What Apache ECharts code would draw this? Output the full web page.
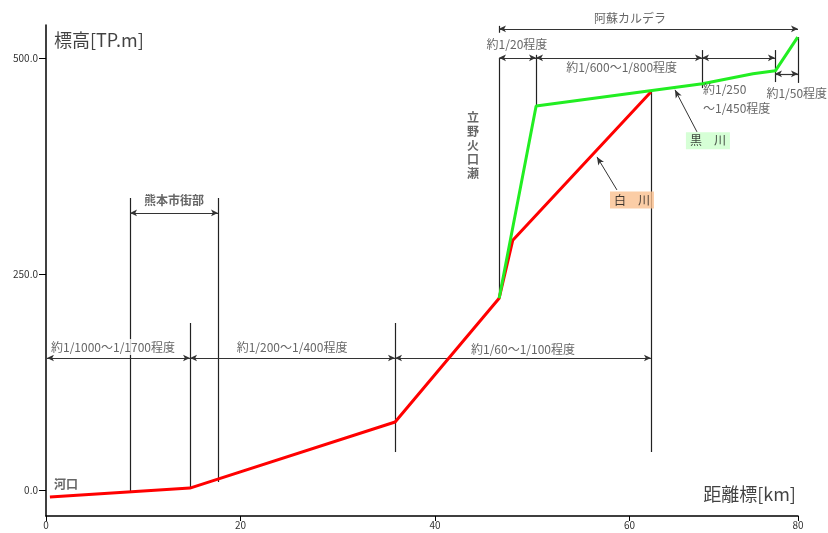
<!DOCTYPE html>
<html><head><meta charset="utf-8">
<script src="https://cdn.jsdelivr.net/npm/echarts@6/dist/echarts.min.js"></script>
<style>html,body{margin:0;padding:0;background:#fff}#c{width:828px;height:533px}</style>
</head><body><div id="c"></div>
<script>
// ---- data (distance km, elevation TP.m) ----
const shirakawaX = [0.4, 14.8, 35.9, 46.6, 48.0, 62.2];
const shirakawaY = [-8, 2.3, 78.7, 222, 289, 460.6];
const kurokawaX = [46.6, 50.4, 67.5, 72.7, 75.0, 77.3];
const kurokawaY = [222, 444.4, 470, 481.5, 485, 524];
const xTickValues = [0, 20, 40, 60, 77.33];
const xTickLabels = ['0', '20', '40', '60', '80'];
const yTickValues = [0, 250, 500];
const xMin = 0, xMax = 77.33, yMin = -30, yMax = 538;

// vertical reference lines: [x, yTop, yBottom]
const vLines = [
  [8.64, 338, -2.3], [14.81, 193.3, 2.3], [17.69, 338, 9.3], [35.89, 193.3, 44],
  [62.21, 460.6, 44], [46.58, 500, 222], [50.39, 503.5, 444.4], [67.46, 509, 465],
  [74.96, 509, 472], [77.33, 524, 471], [46.58, 537, 529]
];
// dimension arrows: [y, x1, x2]
const hArrows = [
  [320.6, 8.64, 17.69], [152.8, 0.1, 14.81], [152.8, 14.81, 35.89], [152.8, 35.89, 62.21],
  [500, 46.58, 50.39], [500, 50.39, 67.46], [500, 67.46, 74.96], [481.5, 74.96, 77.33],
  [533.6, 46.58, 77.33]
];
// pointer arrows: [xFrom, yFrom, xTo, yTo]
const pointers = [[58.71, 347.2, 56.66, 385.4], [66.94, 414.4, 64.68, 463]];
// text labels: [text, x, y, align, weight, background]
const texts = [
  ['熊本市街部', 13.16, 335.6, 'c', 'bold'],
  ['約1/1000〜1/1700程度', 6.89, 165.5, 'c', 'normal', '#fff'],
  ['約1/200〜1/400程度', 25.3, 165.5, 'c'],
  ['約1/60〜1/100程度', 49.05, 163.2, 'c'],
  ['約1/20程度', 48.43, 515, 'c'],
  ['約1/600〜1/800程度', 59.2, 488.4, 'c'],
  ['約1/250', 67.56, 463, 'l'],
  ['〜1/450程度', 67.56, 442, 'l'],
  ['約1/50程度', 77.2, 458.3, 'c'],
  ['阿蘇カルデラ', 60.05, 546, 'c'],
  ['立\n野\n火\n口\n瀬', 43.9, 399, 'c', 'bold'],
  ['河口', 2.06, 7, 'c', 'bold']
];
const boxes = [['白　川', 60.26, 335.6, '#FAC090'], ['黒　川', 68.07, 404, '#CCFFCC']];
const axisTitles = [['標高[TP.m]', 0.82, 520.8, 'l'], ['距離標[km]', 77.12, -4.6, 'r']];

const zip = (xs, ys) => xs.map((x, i) => [x, ys[i]]);
const F = '"Noto Sans CJK JP", sans-serif';

const mlData = [];
vLines.forEach(v => mlData.push([{coord: [v[0], v[1]], symbol: 'none', lineStyle: {color: '#222', width: 1.2}}, {coord: [v[0], v[2]], symbol: 'none'}]));
hArrows.forEach(h => mlData.push([{coord: [h[1], h[0]], symbol: 'arrow', symbolSize: [5, 7], lineStyle: {color: '#333', width: 1.2}}, {coord: [h[2], h[0]], symbol: 'arrow', symbolSize: [5, 7]}]));
pointers.forEach(p => mlData.push([{coord: [p[0], p[1]], symbol: 'none', lineStyle: {color: '#333', width: 1}}, {coord: [p[2], p[3]], symbol: 'arrow', symbolSize: [5, 8]}]));

function lbl(t) {
  const base = {show: true, formatter: t[0], fontFamily: F, fontSize: 12, color: '#404040', fontWeight: t[4] || 'normal', lineHeight: 14};
  if (t[5]) { base.backgroundColor = t[5]; base.padding = [1, 0, 1, 0]; }
  if (t[3] === 'l') { base.position = 'right'; base.distance = 0; }
  else if (t[3] === 'r') { base.position = 'left'; base.distance = 0; }
  else { base.position = 'inside'; }
  return base;
}
const textData = texts.map(t => ({value: [t[1], t[2]], label: lbl(t)}));
boxes.forEach(b => textData.push({value: [b[1], b[2]], label: {show: true, position: 'inside', formatter: b[0], fontFamily: F, fontSize: 12, color: '#111', backgroundColor: b[3], padding: [3, 4, 2, 4]}}));
axisTitles.forEach(a => textData.push({value: [a[1], a[2]], label: Object.assign(lbl(a), {fontSize: 18, color: '#111'})}));

const chart = echarts.init(document.getElementById('c'), null, {renderer: 'canvas'});
chart.setOption({
  animation: false,
  backgroundColor: '#fff',
  grid: {left: 46, right: 30, top: 25, bottom: 17, containLabel: false},
  xAxis: {
    type: 'value', min: xMin, max: xMax,
    axisLine: {onZero: false, lineStyle: {color: '#000', width: 1.5}},
    axisTick: {customValues: xTickValues, length: 5, lineStyle: {color: '#000'}},
    axisLabel: {customValues: xTickValues, fontSize: 10, color: '#333', margin: 4, fontFamily: F,
      formatter: v => { const i = xTickValues.findIndex(t => Math.abs(t - v) < 0.01); return i >= 0 ? xTickLabels[i] : ''; }},
    splitLine: {show: false}
  },
  yAxis: {
    type: 'value', min: yMin, max: yMax,
    axisLine: {show: true, onZero: false, lineStyle: {color: '#000', width: 1.5}},
    axisTick: {show: true, customValues: yTickValues, length: 7, lineStyle: {color: '#000'}},
    axisLabel: {customValues: yTickValues, fontSize: 10, color: '#333', margin: 8, fontFamily: F, formatter: v => v.toFixed(1)},
    splitLine: {show: false}
  },
  series: [
    {type: 'line', name: '白川', data: zip(shirakawaX, shirakawaY), symbol: 'none', lineStyle: {color: '#FF0000', width: 3}, z: 5},
    {type: 'line', name: '黒川', data: zip(kurokawaX, kurokawaY), symbol: 'none', lineStyle: {color: '#22EE22', width: 3}, z: 5},
    {type: 'scatter', data: textData, symbolSize: 0, clip: false, silent: true, z: 10, zlevel: 1},
    {type: 'line', data: [], silent: true, z: 1, markLine: {z: 1, silent: true, animation: false, label: {show: false}, lineStyle: {type: 'solid'}, data: mlData}}
  ]
});
</script></body></html>
